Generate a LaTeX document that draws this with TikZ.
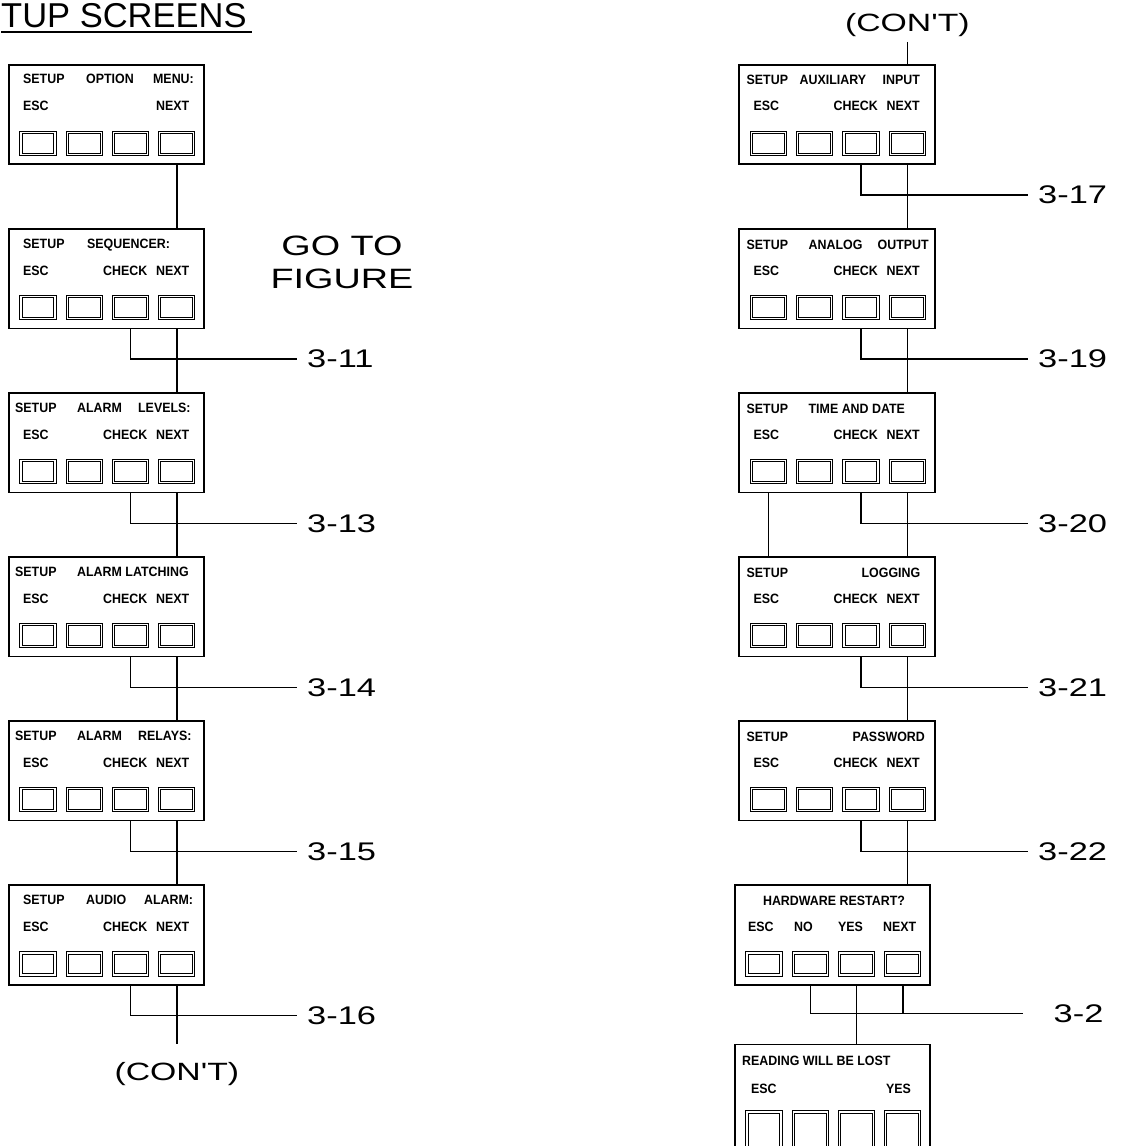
\documentclass[tikz,border=0pt]{standalone}
\usepackage{fontspec}
\setmainfont{Liberation Sans}
\newfontfamily\cadfont[FakeStretch=1.35]{Liberation Sans}
\newfontfamily\lcdfont[FakeStretch=0.92]{Liberation Sans}
\usetikzlibrary{positioning, calc}
\tikzset{
  screen/.style  ={draw, line width=1.6pt, minimum width=195.5pt, minimum height=99.5pt, inner sep=0pt},
  keybtn/.style  ={draw, double, line width=1pt, double distance=1.2pt, minimum width=34pt,
                   minimum height=22pt, inner sep=0pt, anchor=north},
  lcd/.style     ={font=\lcdfont\bfseries\fontsize{13.5}{15}\selectfont, inner sep=0pt, anchor=base west},
  link/.style    ={line width=1.5pt},
  figref/.style  ={font=\cadfont\fontsize{25.5}{28}\selectfont, anchor=west, inner xsep=10pt, inner ysep=0pt},
  contlbl/.style ={font=\cadfont\fontsize{25}{28}\selectfont, inner xsep=0pt}
}

\begin{document}
\begin{tikzpicture}[x=1pt, y=1pt]

  \useasboundingbox (0,0) rectangle (1120,-1146);
  \clip (0,0) rectangle (1120,-1146);

  % ---------------- title ----------------
  \node[font=\fontsize{34.5}{38}\selectfont, anchor=base west, inner sep=0pt]
        (title) at (1,-27) {TUP SCREENS};
  \draw[link] (title.base west |- 0,-32) -- (252,-32);

  % ---------------- left column ----------------
  \node[screen] (optmenu) at (106.5,-114.5) {};
  \node[screen, below=63pt of optmenu] (seq) {};
  \node[screen, below=63pt of seq]     (alvl) {};
  \node[screen, below=63pt of alvl]    (alatch) {};
  \node[screen, below=63pt of alatch]  (arelay) {};
  \node[screen, below=63pt of arelay]  (audio) {};

  % ---------------- right column ----------------
  \node[screen] (auxin) at (837,-114.5) {};
  \node[screen, below=63pt of auxin]   (aout) {};
  \node[screen, below=63pt of aout]    (tdate) {};
  \node[screen, below=63pt of tdate]   (logging) {};
  \node[screen, below=63pt of logging] (passwd) {};
  \node[screen, below=63pt of passwd, xshift=-4.5pt] (hwrst) {};
  \node[screen, below=58pt of hwrst, minimum height=130pt] (lost) {};

  % ---------------- keys ----------------
  \foreach \s in {optmenu,seq,alvl,alatch,arelay,audio,auxin,aout,tdate,logging,passwd,hwrst}
    \foreach \k in {1,...,4}
      \node[keybtn] (\s-b\k) at ($(\s.north west)+({30+46.3*(\k-1)},-68)$) {};
  \foreach \k in {1,...,4}
    \node[keybtn, minimum height=40pt] (lost-b\k) at ($(lost.north west)+({30+46.3*(\k-1)},-68)$) {};

  % ---------------- display texts ----------------
  \foreach \dx/\t in {15/SETUP, 78/OPTION, 145/MENU:}
    \node[lcd] (optmenu-r1-\dx) at ($(optmenu.north west)+(\dx,-20)$) {\t};
  \foreach \dx/\t in {15/ESC, 148/NEXT}
    \node[lcd] (optmenu-r2-\dx) at ($(optmenu.north west)+(\dx,-47)$) {\t};
  \foreach \dx/\t in {15/SETUP, 79/SEQUENCER:}
    \node[lcd] (seq-r1-\dx) at ($(seq.north west)+(\dx,-20)$) {\t};
  \foreach \dx/\t in {7/SETUP, 69/ALARM, 130/LEVELS:}
    \node[lcd] (alvl-r1-\dx) at ($(alvl.north west)+(\dx,-20)$) {\t};
  \foreach \dx/\t in {7/SETUP, 69/ALARM LATCHING}
    \node[lcd] (alatch-r1-\dx) at ($(alatch.north west)+(\dx,-20)$) {\t};
  \foreach \dx/\t in {7/SETUP, 69/ALARM, 130/RELAYS:}
    \node[lcd] (arelay-r1-\dx) at ($(arelay.north west)+(\dx,-20)$) {\t};
  \foreach \dx/\t in {15/SETUP, 78/AUDIO, 136/ALARM:}
    \node[lcd] (audio-r1-\dx) at ($(audio.north west)+(\dx,-20)$) {\t};
  \foreach \dx/\t in {8/SETUP, 61/AUXILIARY, 144/INPUT}
    \node[lcd] (auxin-r1-\dx) at ($(auxin.north west)+(\dx,-21)$) {\t};
  \foreach \dx/\t in {8/SETUP, 70/ANALOG, 139/OUTPUT}
    \node[lcd] (aout-r1-\dx) at ($(aout.north west)+(\dx,-21)$) {\t};
  \foreach \dx/\t in {8/SETUP, 70/TIME AND DATE}
    \node[lcd] (tdate-r1-\dx) at ($(tdate.north west)+(\dx,-21)$) {\t};
  \foreach \dx/\t in {8/SETUP, 123/LOGGING}
    \node[lcd] (logging-r1-\dx) at ($(logging.north west)+(\dx,-21)$) {\t};
  \foreach \dx/\t in {8/SETUP, 114/PASSWORD}
    \node[lcd] (passwd-r1-\dx) at ($(passwd.north west)+(\dx,-21)$) {\t};
  \foreach \s in {seq,alvl,alatch,arelay,audio,auxin,aout,tdate,logging,passwd}
    \foreach \dx/\t in {15/ESC, 95/CHECK, 148/NEXT}
      \node[lcd] (\s-r2-\dx) at ($(\s.north west)+(\dx,-47)$) {\t};

  \node[lcd, anchor=base] (hwrst-r1) at ($(hwrst.north)+(1.5,-21)$) {HARDWARE RESTART?};
  \foreach \dx/\t in {14/ESC, 60/NO, 104/YES, 149/NEXT}
    \node[lcd] (hwrst-r2-\dx) at ($(hwrst.north west)+(\dx,-47)$) {\t};
  \node[lcd] (lost-r1) at ($(lost.north west)+(8,-22)$) {READING WILL BE LOST};
  \foreach \dx/\t in {17/ESC, 152/YES}
    \node[lcd] (lost-r2-\dx) at ($(lost.north west)+(\dx,-50)$) {\t};

  % ---------------- figure references ----------------
  \node[font=\cadfont\fontsize{28}{33}\selectfont, align=center] (goto) at (342,-262) {GO TO\\FIGURE};

  \node[figref] (f311) at ($(seq.south)+(190.5,-30)$)    {3-11};
  \node[figref] (f313) at ($(alvl.south)+(190.5,-30)$)   {3-13};
  \node[figref] (f314) at ($(alatch.south)+(190.5,-30)$) {3-14};
  \node[figref] (f315) at ($(arelay.south)+(190.5,-30)$) {3-15};
  \node[figref] (f316) at ($(audio.south)+(190.5,-30)$)  {3-16};

  \node[figref] (f317) at ($(auxin.south)+(191,-30)$)   {3-17};
  \node[figref] (f319) at ($(aout.south)+(191,-30)$)    {3-19};
  \node[figref] (f320) at ($(tdate.south)+(191,-30)$)   {3-20};
  \node[figref] (f321) at ($(logging.south)+(191,-30)$) {3-21};
  \node[figref] (f322) at ($(passwd.south)+(191,-30)$)  {3-22};
  \node[figref, inner xsep=31pt] (f32) at ($(hwrst.south)+(190,-28)$) {3-2};

  \node[contlbl, anchor=north, inner ysep=18.5pt] (cont1) at ($(audio-b4 |- audio.south)+(0,-58)$) {(CON'T)};
  \node[contlbl, anchor=south, inner ysep=4.7pt] (cont2) at ($(auxin-b4 |- auxin.north)+(0,22)$) {(CON'T)};

  % ---------------- NEXT chain ----------------
  \draw[link] (optmenu-b4 |- optmenu.south) -- (seq-b4 |- seq.north);
  \draw[link] (seq-b4 |- seq.south)         -- (alvl-b4 |- alvl.north);
  \draw[link] (alvl-b4 |- alvl.south)       -- (alatch-b4 |- alatch.north);
  \draw[link] (alatch-b4 |- alatch.south)   -- (arelay-b4 |- arelay.north);
  \draw[link] (arelay-b4 |- arelay.south)   -- (audio-b4 |- audio.north);
  \draw[link] (audio-b4 |- audio.south)     -- (cont1.north);

  \draw[link] (cont2.south)                 -- (auxin-b4 |- auxin.north);
  \draw[link] (auxin-b4 |- auxin.south)     -- (aout-b4 |- aout.north);
  \draw[link] (aout-b4 |- aout.south)       -- (tdate-b4 |- tdate.north);
  \draw[link] (tdate-b4 |- tdate.south)     -- (logging-b4 |- logging.north);
  \draw[link] (logging-b4 |- logging.south) -- (passwd-b4 |- passwd.north);
  \draw[link] (passwd-b4 |- passwd.south)   -- (passwd-b4 |- hwrst.north);
  \draw[link] (tdate-b1 |- tdate.south)     -- (tdate-b1 |- logging.north);

  % ---------------- CHECK branches ----------------
  \draw[link] (seq-b3 |- seq.south)         |- (f311.west);
  \draw[link] (alvl-b3 |- alvl.south)       |- (f313.west);
  \draw[link] (alatch-b3 |- alatch.south)   |- (f314.west);
  \draw[link] (arelay-b3 |- arelay.south)   |- (f315.west);
  \draw[link] (audio-b3 |- audio.south)     |- (f316.west);

  \draw[link] (auxin-b3 |- auxin.south)     |- (f317.west);
  \draw[link] (aout-b3 |- aout.south)       |- (f319.west);
  \draw[link] (tdate-b3 |- tdate.south)     |- (f320.west);
  \draw[link] (logging-b3 |- logging.south) |- (f321.west);
  \draw[link] (passwd-b3 |- passwd.south)   |- (f322.west);

  % ---------------- restart ----------------
  \draw[link] (hwrst-b2 |- hwrst.south) |- (f32.west);
  \draw[link] (hwrst-b4 |- hwrst.south) -- (hwrst-b4 |- f32.west);
  \draw[link] (hwrst-b3 |- hwrst.south) -- (hwrst-b3 |- lost.north);

\end{tikzpicture}
\end{document}
